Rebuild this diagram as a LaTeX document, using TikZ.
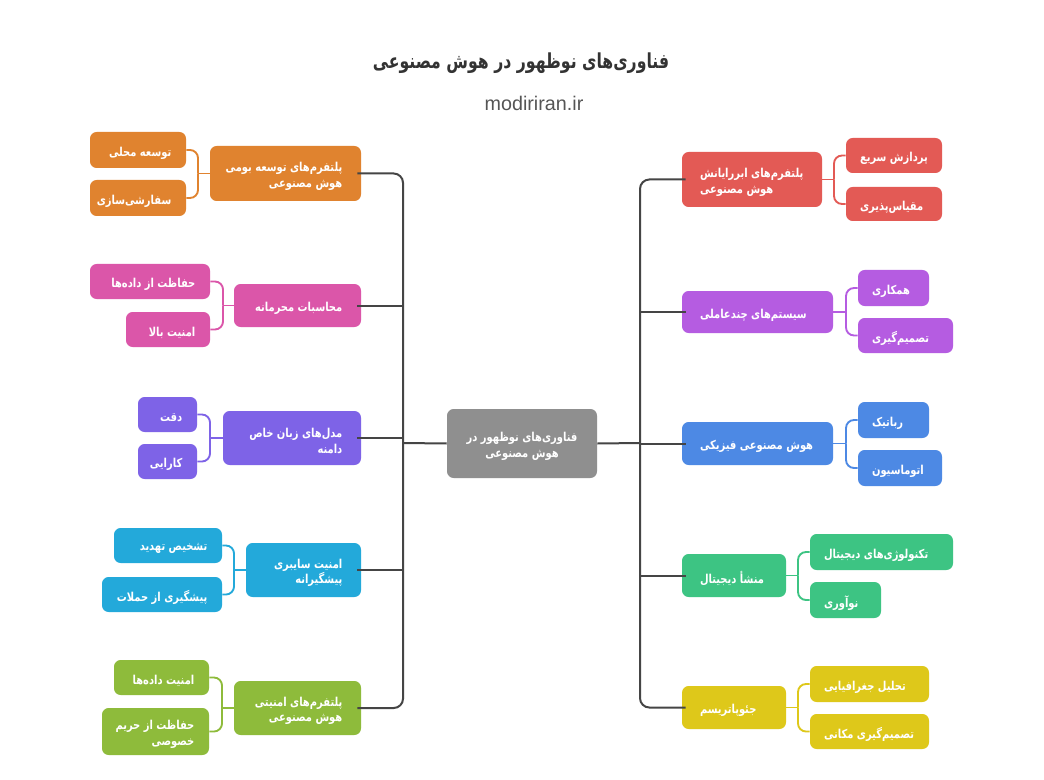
\documentclass[tikz,border=0pt]{standalone}
\usepackage{fontspec}
\setmainfont{DejaVu Sans}
\newfontfamily\arabicfont[Script=Arabic, FakeStretch=0.81]{DejaVu Sans}
\newfontfamily\titlefont[Script=Arabic, FakeStretch=0.76]{DejaVu Sans}
\newfontfamily\latinfont{Liberation Sans}
\TeXXeTstate=1
\newcommand\rl[1]{\beginR #1\endR}
\definecolor{cOrange}{HTML}{E0832F}
\definecolor{cPink}{HTML}{DB56A9}
\definecolor{cPurple}{HTML}{7E63E7}
\definecolor{cCyan}{HTML}{23A9DA}
\definecolor{cLime}{HTML}{8EBB3B}
\definecolor{cRed}{HTML}{E35A55}
\definecolor{cViolet}{HTML}{B55CE1}
\definecolor{cBlue}{HTML}{4D89E4}
\definecolor{cGreen}{HTML}{3DC483}
\definecolor{cYellow}{HTML}{DEC81A}
\definecolor{cGray}{HTML}{8F8F8F}
\definecolor{cTrunk}{HTML}{454545}
\definecolor{cTitle}{HTML}{333333}
\definecolor{cSub}{HTML}{555555}
\tikzset{
  box/.style={rounded corners=5pt, draw=none, inner sep=0pt},
  txt/.style={text=white, inner sep=0pt, yshift=-2.2pt,
    font={\arabicfont\bfseries\fontsize{9.2}{11.6}\selectfont\lineskiplimit=-20pt}},
  ltxt/.style={txt, anchor=east, align=right},
  rtxt/.style={txt, anchor=west, align=left},
  trunk/.style={draw=cTrunk, line width=1.5pt, rounded corners=7pt},
  br/.style={line width=1.4pt, rounded corners=6pt},
}
\newcommand\bx[6]{\node[box, fill=#2, minimum width={(#5-#3)*0.75pt}, minimum height={(#6-#4)*0.75pt}] (#1) at ({(#3+#5)/2},{(#4+#6)/2}) {};}
\begin{document}
\begin{tikzpicture}[x=0.75pt,y=-0.75pt]
\path[use as bounding box, fill=white] (0,0) rectangle (1044,780);
% title
\node[text=cTitle, font=\titlefont\bfseries\fontsize{15.5}{18}\selectfont] (title) at (521,63) {\rl{فناوری^^^^200cهای نوظهور در هوش مصنوعی}};
\node[text=cSub, font=\latinfont\fontsize{14.8}{17}\selectfont] (sub) at (534,103) {modiriran.ir};
% center
\bx{C}{cGray}{447}{409}{597}{478}
\node[txt, align=center] (Ct) at (C.center) {\rl{فناوری^^^^200cهای نوظهور در}\\\rl{هوش مصنوعی}};
% ---------- left parents
\bx{L1}{cOrange}{210}{146}{361}{201}
\bx{L2}{cPink}{234}{284}{361}{327}
\bx{L3}{cPurple}{223}{411}{361}{465}
\bx{L4}{cCyan}{246}{543}{361}{597}
\bx{L5}{cLime}{234}{681}{361}{735}
\node[ltxt] (L1t) at ([xshift=-14pt]L1.east) {\rl{پلتفرم^^^^200cهای توسعه بومی}\\\rl{هوش مصنوعی}};
\node[ltxt] (L2t) at ([xshift=-14pt]L2.east) {\rl{محاسبات محرمانه}};
\node[ltxt] (L3t) at ([xshift=-14pt]L3.east) {\rl{مدل^^^^200cهای زبان خاص}\\\rl{دامنه}};
\node[ltxt] (L4t) at ([xshift=-14pt]L4.east) {\rl{امنیت سایبری}\\\rl{پیشگیرانه}};
\node[ltxt] (L5t) at ([xshift=-14pt]L5.east) {\rl{پلتفرم^^^^200cهای امنیتی}\\\rl{هوش مصنوعی}};
% left children
\bx{L1a}{cOrange}{90}{132}{186}{168}
\bx{L1b}{cOrange}{90}{180}{186}{216}
\bx{L2a}{cPink}{90}{264}{210}{299}
\bx{L2b}{cPink}{126}{312}{210}{347}
\bx{L3a}{cPurple}{138}{397}{197}{432}
\bx{L3b}{cPurple}{138}{444}{197}{479}
\bx{L4a}{cCyan}{114}{528}{222}{563}
\bx{L4b}{cCyan}{102}{577}{222}{612}
\bx{L5a}{cLime}{114}{660}{209}{695}
\bx{L5b}{cLime}{102}{708}{209}{755}
\node[ltxt] (L1at) at ([xshift=-11pt]L1a.east) {\rl{توسعه محلی}};
\node[ltxt] (L1bt) at ([xshift=-11pt]L1b.east) {\rl{سفارشی^^^^200cسازی}};
\node[ltxt] (L2at) at ([xshift=-11pt]L2a.east) {\rl{حفاظت از داده^^^^200cها}};
\node[ltxt] (L2bt) at ([xshift=-11pt]L2b.east) {\rl{امنیت بالا}};
\node[ltxt] (L3at) at ([xshift=-11pt]L3a.east) {\rl{دقت}};
\node[ltxt] (L3bt) at ([xshift=-11pt]L3b.east) {\rl{کارایی}};
\node[ltxt] (L4at) at ([xshift=-11pt]L4a.east) {\rl{تشخیص تهدید}};
\node[ltxt] (L4bt) at ([xshift=-11pt]L4b.east) {\rl{پیشگیری از حملات}};
\node[ltxt] (L5at) at ([xshift=-11pt]L5a.east) {\rl{امنیت داده^^^^200cها}};
\node[ltxt] (L5bt) at ([xshift=-11pt]L5b.east) {\rl{حفاظت از حریم}\\\rl{خصوصی}};
% ---------- right parents
\bx{R1}{cRed}{682}{152}{822}{207}
\bx{R2}{cViolet}{682}{291}{833}{333}
\bx{R3}{cBlue}{682}{422}{833}{465}
\bx{R4}{cGreen}{682}{554}{786}{597}
\bx{R5}{cYellow}{682}{686}{786}{729}
\node[rtxt] (R1t) at ([xshift=13.5pt]R1.west) {\rl{پلتفرم^^^^200cهای ابررایانش}\\\rl{هوش مصنوعی}};
\node[rtxt] (R2t) at ([xshift=13.5pt]R2.west) {\rl{سیستم^^^^200cهای چندعاملی}};
\node[rtxt] (R3t) at ([xshift=13.5pt]R3.west) {\rl{هوش مصنوعی فیزیکی}};
\node[rtxt] (R4t) at ([xshift=13.5pt]R4.west) {\rl{منشأ دیجیتال}};
\node[rtxt] (R5t) at ([xshift=13.5pt]R5.west) {\rl{جئوپاتریسم}};
% right children
\bx{R1a}{cRed}{846}{138}{942}{173}
\bx{R1b}{cRed}{846}{187}{942}{221}
\bx{R2a}{cViolet}{858}{270}{929}{306}
\bx{R2b}{cViolet}{858}{318}{953}{353}
\bx{R3a}{cBlue}{858}{402}{929}{438}
\bx{R3b}{cBlue}{858}{450}{942}{486}
\bx{R4a}{cGreen}{810}{534}{953}{570}
\bx{R4b}{cGreen}{810}{582}{881}{618}
\bx{R5a}{cYellow}{810}{666}{929}{702}
\bx{R5b}{cYellow}{810}{714}{929}{749}
\node[rtxt] (R1at) at ([xshift=10.5pt]R1a.west) {\rl{پردازش سریع}};
\node[rtxt] (R1bt) at ([xshift=10.5pt]R1b.west) {\rl{مقیاس^^^^200cپذیری}};
\node[rtxt] (R2at) at ([xshift=10.5pt]R2a.west) {\rl{همکاری}};
\node[rtxt] (R2bt) at ([xshift=10.5pt]R2b.west) {\rl{تصمیم^^^^200cگیری}};
\node[rtxt] (R3at) at ([xshift=10.5pt]R3a.west) {\rl{رباتیک}};
\node[rtxt] (R3bt) at ([xshift=10.5pt]R3b.west) {\rl{اتوماسیون}};
\node[rtxt] (R4at) at ([xshift=10.5pt]R4a.west) {\rl{تکنولوژی^^^^200cهای دیجیتال}};
\node[rtxt] (R4bt) at ([xshift=10.5pt]R4b.west) {\rl{نوآوری}};
\node[rtxt] (R5at) at ([xshift=10.5pt]R5a.west) {\rl{تحلیل جغرافیایی}};
\node[rtxt] (R5bt) at ([xshift=10.5pt]R5b.west) {\rl{تصمیم^^^^200cگیری مکانی}};
% ---------- trunks
\coordinate (TL) at (403,443);
\coordinate (TR) at (640,443);
\draw[trunk] (C.west) -- (TL);
\draw[trunk] (C.east) -- (TR);
\draw[trunk] (TL) |- ([xshift=-3pt]L1.east);
\draw[trunk] (TL) |- ([xshift=-3pt]L5.east);
\draw[trunk] ([xshift=-3pt]L2.east) -- (L2.east -| TL);
\draw[trunk] ([xshift=-3pt]L3.east) -- (L3.east -| TL);
\draw[trunk] ([xshift=-3pt]L4.east) -- (L4.east -| TL);
\draw[trunk] (TR) |- ([xshift=3pt]R1.west);
\draw[trunk] (TR) |- ([xshift=3pt]R5.west);
\draw[trunk] ([xshift=3pt]R2.west) -- (R2.west -| TR);
\draw[trunk] ([xshift=3pt]R3.west) -- (R3.west -| TR);
\draw[trunk] ([xshift=3pt]R4.west) -- (R4.west -| TR);
% ---------- brackets
\foreach \p/\bxx/\col in {L1/198/cOrange, L2/223/cPink, L3/210/cPurple, L4/234/cCyan, L5/222/cLime}{
  \coordinate (\p j) at (\bxx,0);
  \draw[br, draw=\col] (\p.west) -- (\p.west -| \p j);
  \draw[br, draw=\col] (\p.west -| \p j) |- (\p a.east);
  \draw[br, draw=\col] (\p.west -| \p j) |- (\p b.east);
}
\foreach \p/\bxx/\col in {R1/834/cRed, R2/846/cViolet, R3/846/cBlue, R4/798/cGreen, R5/798/cYellow}{
  \coordinate (\p j) at (\bxx,0);
  \draw[br, draw=\col] (\p.east) -- (\p.east -| \p j);
  \draw[br, draw=\col] (\p.east -| \p j) |- (\p a.west);
  \draw[br, draw=\col] (\p.east -| \p j) |- (\p b.west);
}
\end{tikzpicture}
\end{document}
